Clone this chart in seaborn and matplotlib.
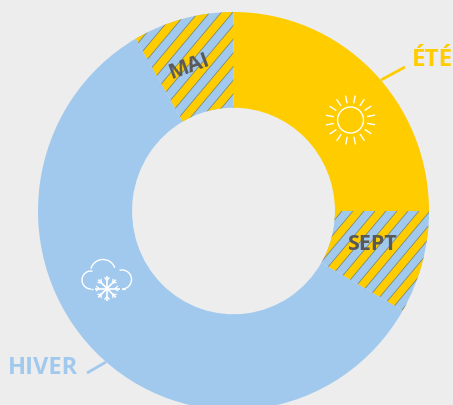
import numpy as np
import matplotlib
matplotlib.use("Agg")
import matplotlib.pyplot as plt
import seaborn as sns
from matplotlib.patches import Polygon
from matplotlib.transforms import Affine2D

# months per season, clockwise from the top
seasons = ["ÉTÉ", "SEPT", "HIVER", "MAI"]
months = [3, 1, 7, 1]

YELLOW = "#FFCC00"
BLUE = "#A1C9EE"
BACKGROUND = "#EDEDED"
DARK = "#595959"

sns.set_theme(style="white", rc={"figure.facecolor": BACKGROUND, "axes.facecolor": BACKGROUND})
plt.rcParams["font.family"] = ["Open Sans", "DejaVu Sans"]

fig = plt.figure(figsize=(4.53, 4.05), dpi=100)
ax = fig.add_axes([0, 0, 1, 1])

# pixel coordinates of the picture, y going down
px = Affine2D().scale(1, -1).translate(0, 405)

colors = [YELLOW, BLUE, BLUE, BLUE]
wedges, _ = ax.pie(months, colors=colors, startangle=90, counterclock=False,
                   wedgeprops={"width": 0.481, "linewidth": 0})

# the reference is slightly taller than wide
ax.set_aspect("auto")
ax.set_xlim(-233.5 / 195.5, (453 - 233.5) / 195.5)
ax.set_ylim(-(405 - 211) / 199, 211 / 199)


def add_stripes(wedge, anchor_x, anchor_y, period=22.0, width=11, angle=50):
    # yellow diagonal stripes, clipped to the wedge
    slant = 1 / np.tan(np.radians(angle))
    start = anchor_x + anchor_y * slant
    for k in range(-30, 30):
        left = start + k * period
        run = 405 * slant
        corners = [(left, 0), (left + width, 0), (left + width - run, 405), (left - run, 405)]
        stripe = Polygon(corners, closed=True, facecolor=YELLOW, edgecolor="#6F7F78",
                         linewidth=0.5, transform=px)
        ax.add_patch(stripe)
        stripe.set_clip_path(wedge)


add_stripes(wedges[1], 353, 211)
add_stripes(wedges[3], 221, 12.7, period=23, width=11.5)


def line(xs, ys, color="white", lw=1.0):
    ax.plot(xs, ys, color=color, lw=lw, transform=px, solid_capstyle="butt", clip_on=False)


def arc(cx, cy, r, start, stop):
    t = np.radians(np.linspace(start, stop, 40))
    line(cx + r * np.cos(t), cy - r * np.sin(t))


# sun icon
sun_x, sun_y = 350.5, 120
arc(sun_x, sun_y, 13, 0, 360)
for a in np.radians(np.arange(0, 360, 22.5) + 11):
    line([sun_x + 17 * np.cos(a), sun_x + 25 * np.cos(a)],
         [sun_y + 17 * np.sin(a), sun_y + 25 * np.sin(a)])

# cloud icon
arc(91, 280, 9, 80, 270)
arc(103, 272, 12.5, 20, 165)
arc(122, 279.5, 9.5, -90, 105)
line([91, 93], [289, 289])
line([122, 125], [289, 289])

# snowflake icon
flake_x, flake_y = 107, 288.5
for a in np.radians(np.arange(0, 180, 45) + 0):
    dx, dy = 12.5 * np.cos(a), 12.5 * np.sin(a)
    line([flake_x - dx, flake_x + dx], [flake_y - dy, flake_y + dy], lw=1.2)
for a in np.radians(np.arange(0, 360, 45)):
    bx, by = flake_x + 8 * np.cos(a), flake_y + 8 * np.sin(a)
    for side in (-0.7, 0.7):
        line([bx, bx + 4 * np.cos(a + side)], [by, by + 4 * np.sin(a + side)], lw=0.9)

# leader lines
line([381, 405], [80, 67], color=YELLOW, lw=2.0)
line([87, 106], [373, 362], color=BLUE, lw=2.0)

# labels
ax.text(412, 59.5, seasons[0], color=YELLOW, fontsize=17.5, fontweight="bold",
        ha="left", va="center", transform=px, clip_on=True)
ax.text(8, 368, seasons[2], color=BLUE, fontsize=17, fontweight="bold",
        ha="left", va="center", transform=px)
ax.text(372, 244.5, seasons[1], color=DARK, fontsize=15.5, fontweight="bold",
        ha="center", va="center", transform=px)
ax.text(189, 67, seasons[3], color=DARK, fontsize=15.5, fontweight="bold",
        ha="center", va="center", rotation=20, rotation_mode="anchor", transform=px)

fig.savefig("out.png", dpi=100, facecolor=BACKGROUND)
